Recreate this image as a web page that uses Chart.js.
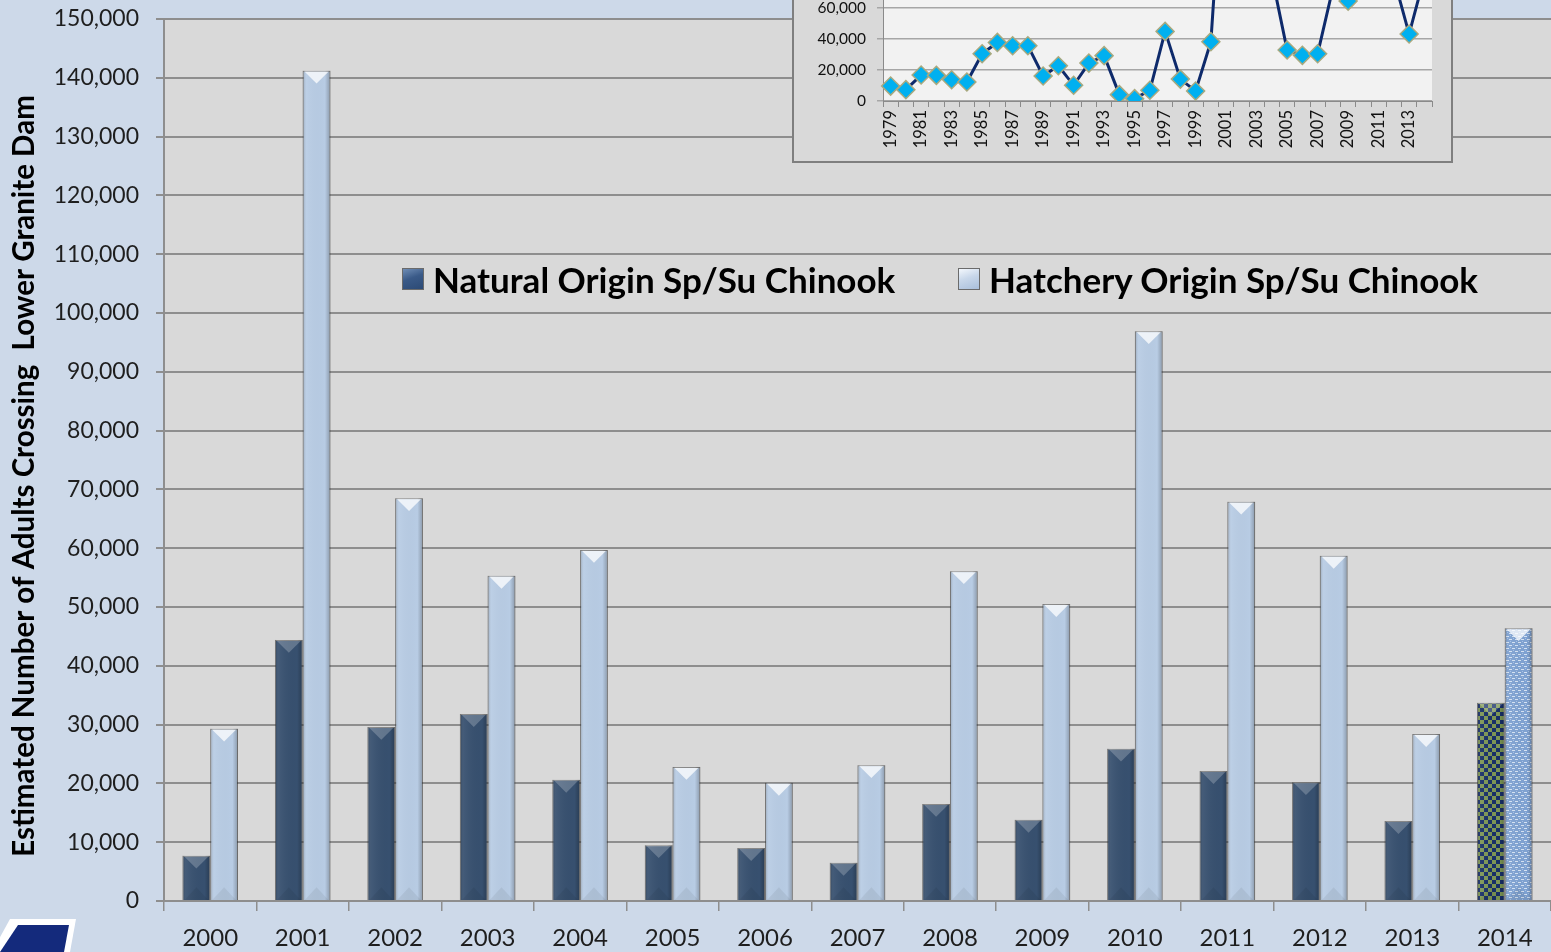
<!DOCTYPE html>
<html>
<head>
<meta charset="utf-8">
<script src="https://cdn.jsdelivr.net/npm/chart.js@4.4.1/dist/chart.umd.min.js"></script>
<style>
  html, body { margin: 0; padding: 0; }
  body {
    width: 1551px; height: 952px; position: relative; overflow: hidden;
    background: #cdd9e9; font-family: Lato, "Open Sans", sans-serif;
  }
  #main { position: absolute; left: 0; top: 0; }
  #inset-box {
    position: absolute; left: 792px; top: -232px; width: 661px; height: 395px;
    box-sizing: border-box; border: 2px solid #7f7f7f; background: #d9d9d9;
  }
  #inset { position: absolute; left: 0; top: 0; }
  .legend-item {
    position: absolute; top: 258px; height: 42px; display: flex; align-items: center;
    font-weight: bold; font-size: 35px; color: #000; white-space: nowrap;
  }
  .swatch { width: 22px; height: 22px; margin-right: 9px; box-sizing: border-box; border: 1px solid #6b6b6b; }
  #logo-edge, #logo-fill { position: absolute; left: 0; top: 0; width: 100px; height: 952px; }
  #logo-edge { background: #fff; clip-path: polygon(10px 919px, 76px 919px, 70px 952px, -8px 952px); }
  #logo-fill { background: #142a7c; clip-path: polygon(18px 925px, 69px 925px, 64px 952px, 0px 952px); }
</style>
</head>
<body>
<canvas id="main" width="1551" height="952"></canvas>
<div id="inset-box"><canvas id="inset" width="657" height="391"></canvas></div>
<div id="legend"></div>
<div id="logo-edge"></div>
<div id="logo-fill"></div>
<script>
const years = ["2000", "2001", "2002", "2003", "2004", "2005", "2006", "2007",
  "2008", "2009", "2010", "2011", "2012", "2013", "2014"];
const naturalOrigin = [7700, 44400, 29600, 31800, 20600, 9500, 9000, 6500,
  16500, 13800, 25900, 22100, 20200, 13600, 33700];
const hatcheryOrigin = [29300, 141200, 68500, 55300, 59700, 22800, 20100, 23100,
  56100, 50500, 96900, 67900, 58700, 28400, 46400];
const seriesLabels = ["Natural Origin Sp/Su Chinook", "Hatchery Origin Sp/Su Chinook"];
const yAxisTitle = "Estimated Number of Adults Crossing  Lower Granite Dam";
const yMax = 150000;
const yStep = 10000;

// inset: total adults 1979-2014
const insetYears = ["1979", "1980", "1981", "1982", "1983", "1984", "1985", "1986",
  "1987", "1988", "1989", "1990", "1991", "1992", "1993", "1994", "1995", "1996",
  "1997", "1998", "1999", "2000", "2001", "2002", "2003", "2004", "2005", "2006",
  "2007", "2008", "2009", "2010", "2011", "2012", "2013", "2014"];
const insetTotals = [9600, 7300, 16700, 16500, 13700, 12200, 30400, 37700,
  35600, 35600, 16100, 22700, 10100, 24400, 29200, 4100, 1500, 6900,
  44800, 14100, 6400, 38200, 185600, 98100, 87100, 80300, 32800, 29400,
  30400, 72600, 64300, 122800, 90000, 78900, 43100, 80100];
const insetMax = 200000;
const insetStep = 20000;

const NATURAL_COLOR = "#37506f";
const HATCHERY_COLOR = "#b8cce4";
const GRID_COLOR = "#8e8e8e";
const TEXT_COLOR = "#1e1e1e";

function makePattern(size, base, dots) {
  const c = document.createElement("canvas");
  c.width = size;
  c.height = size;
  const g = c.getContext("2d");
  g.fillStyle = base;
  g.fillRect(0, 0, size, size);
  dots.forEach(([x, y, w, h, col]) => {
    g.fillStyle = col;
    g.fillRect(x, y, w, h);
  });
  return g.createPattern(c, "repeat");
}

// 2014 (preliminary) bars use patterned fills
const checker = makePattern(8, "#172f68", [[0, 0, 4, 4, "#7d9655"], [4, 4, 4, 4, "#7d9655"]]);
const speckle = makePattern(6, "#7fa2d2", [
  [0, 0, 3, 1, "#d6e3f3"], [3, 3, 3, 1, "#d6e3f3"], [1, 2, 1, 1, "#a9c3e6"], [4, 5, 1, 1, "#a9c3e6"],
]);

const plotBg = {
  id: "plotBg",
  beforeDraw(chart, args, opts) {
    const { ctx, chartArea: a } = chart;
    ctx.save();
    ctx.fillStyle = opts.color;
    ctx.fillRect(a.left, a.top, a.right - a.left, a.bottom - a.top);
    ctx.restore();
  },
};

// Excel style bevel: darker edges, light triangle at the top of each bar
const bevel = {
  id: "bevel",
  afterDatasetsDraw(chart, args, opts) {
    const ctx = chart.ctx;
    chart.data.datasets.forEach((ds, di) => {
      const shine = opts.shine[di];
      chart.getDatasetMeta(di).data.forEach((bar) => {
        const { x, y, base, width } = bar.getProps(["x", "y", "base", "width"], true);
        const left = x - width / 2;
        const right = x + width / 2;
        const h = base - y;
        const tri = Math.min(width / 2 - 1, h / 2);
        ctx.save();
        const g = ctx.createLinearGradient(left, 0, right, 0);
        g.addColorStop(0, "rgba(0,0,0,0.22)");
        g.addColorStop(0.14, "rgba(255,255,255,0.06)");
        g.addColorStop(0.8, "rgba(0,0,0,0.0)");
        g.addColorStop(1, "rgba(0,0,0,0.25)");
        ctx.fillStyle = g;
        ctx.fillRect(left, y, width, h);
        ctx.fillStyle = `rgba(255,255,255,${shine})`;
        ctx.beginPath();
        ctx.moveTo(left + 2, y + 1);
        ctx.lineTo(right - 2, y + 1);
        ctx.lineTo(x, y + tri);
        ctx.closePath();
        ctx.fill();
        ctx.fillStyle = "rgba(0,0,0,0.06)";
        ctx.beginPath();
        ctx.moveTo(left + 2, base);
        ctx.lineTo(right - 2, base);
        ctx.lineTo(x, base - tri);
        ctx.closePath();
        ctx.fill();
        ctx.restore();
      });
    });
  },
};

const yTitle = {
  id: "yTitle",
  afterDraw(chart) {
    const ctx = chart.ctx;
    ctx.save();
    ctx.translate(24, 476);
    ctx.rotate(-Math.PI / 2);
    ctx.font = "bold 29.5px Lato";
    ctx.fillStyle = "#000";
    ctx.textAlign = "center";
    ctx.textBaseline = "middle";
    ctx.fillText(yAxisTitle, 0, 0);
    ctx.restore();
  },
};

const fmt = (v) => Number(v).toLocaleString("en-US");

new Chart(document.getElementById("main"), {
  type: "bar",
  data: {
    labels: years,
    datasets: [
      {
        label: seriesLabels[0],
        data: naturalOrigin,
        backgroundColor: years.map((y, i) => (i === years.length - 1 ? checker : NATURAL_COLOR)),
        borderColor: "rgba(70,70,70,0.55)",
        borderWidth: 1,
        categoryPercentage: 0.6,
        barPercentage: 1.0,
      },
      {
        label: seriesLabels[1],
        data: hatcheryOrigin,
        backgroundColor: years.map((y, i) => (i === years.length - 1 ? speckle : HATCHERY_COLOR)),
        borderColor: "rgba(70,70,70,0.55)",
        borderWidth: 1,
        categoryPercentage: 0.6,
        barPercentage: 1.0,
      },
    ],
  },
  options: {
    responsive: false,
    animation: false,
    layout: { padding: { top: 19, right: 0, left: 0, bottom: 0 } },
    plugins: {
      legend: { display: false },
      tooltip: { enabled: false },
      plotBg: { color: "#d9d9d9" },
      bevel: { shine: [0.22, 0.75] },
    },
    scales: {
      x: {
        offset: true,
        grid: { offset: true, drawOnChartArea: false, tickLength: 10, color: GRID_COLOR, lineWidth: 1.5 },
        border: { color: GRID_COLOR, width: 2 },
        ticks: {
          autoSkip: false,
          maxRotation: 0,
          padding: 13,
          color: TEXT_COLOR,
          font: { family: "Lato", size: 24 },
        },
        afterFit(scale) {
          scale.height = 51;
        },
      },
      y: {
        min: 0,
        max: yMax,
        grid: { color: GRID_COLOR, lineWidth: 2, tickLength: 8 },
        border: { color: GRID_COLOR, width: 2 },
        ticks: {
          stepSize: yStep,
          padding: 17,
          color: TEXT_COLOR,
          font: { family: "Lato", size: 23 },
          callback: fmt,
        },
        afterFit(scale) {
          // fixed axis width, and let the top label hang into the layout padding
          scale.width = 164;
          scale.paddingTop = 0;
          scale.paddingBottom = 0;
        },
      },
    },
  },
  plugins: [plotBg, bevel, yTitle],
});

new Chart(document.getElementById("inset"), {
  type: "line",
  data: {
    labels: insetYears,
    datasets: [
      {
        label: "Total",
        data: insetTotals,
        borderColor: "#0e2a6b",
        borderWidth: 3,
        tension: 0,
        pointStyle: "rectRot",
        pointRadius: 9,
        pointBackgroundColor: "#00b0f0",
        pointBorderColor: "#a8a97f",
        pointBorderWidth: 1.5,
      },
    ],
  },
  options: {
    responsive: false,
    animation: false,
    layout: { padding: { top: 14, right: 19, left: 0, bottom: 0 } },
    plugins: {
      legend: { display: false },
      tooltip: { enabled: false },
      plotBg: { color: "#f2f2f2" },
    },
    scales: {
      x: {
        offset: true,
        grid: { offset: true, drawOnChartArea: false, tickLength: 6, color: "#8a8a8a", lineWidth: 1 },
        border: { color: "#8a8a8a", width: 1 },
        ticks: {
          autoSkip: false,
          minRotation: 90,
          maxRotation: 90,
          padding: 3,
          color: "#111",
          font: { family: "Lato", size: 16.5 },
          callback(value, index) {
            return index % 2 === 0 ? this.getLabelForValue(value) : "";
          },
        },
        afterFit(scale) {
          scale.height = 60;
        },
      },
      y: {
        min: 0,
        max: insetMax,
        grid: { color: "#a6a6a6", lineWidth: 1.5, tickLength: 6 },
        border: { color: "#8a8a8a", width: 1 },
        ticks: {
          stepSize: insetStep,
          padding: 11,
          color: "#111",
          font: { family: "Lato", size: 15.5 },
          callback: fmt,
        },
        afterFit(scale) {
          scale.width = 89;
        },
      },
    },
  },
  plugins: [plotBg],
});

// legend sits inside the plot area, built from the series labels
const legendSpots = [
  { left: 402, swatch: "linear-gradient(160deg, #6f8db5 0%, #3a5a88 45%, #2c4a75 100%)" },
  { left: 958, swatch: "linear-gradient(160deg, #f4f8fd 0%, #c8d7ea 45%, #a9bfdb 100%)" },
];
const legend = document.getElementById("legend");
seriesLabels.forEach((label, i) => {
  const item = document.createElement("div");
  item.className = "legend-item";
  item.style.left = legendSpots[i].left + "px";
  const sw = document.createElement("span");
  sw.className = "swatch";
  sw.style.background = legendSpots[i].swatch;
  const txt = document.createElement("span");
  txt.textContent = label;
  item.appendChild(sw);
  item.appendChild(txt);
  legend.appendChild(item);
});
</script>
</body>
</html>
